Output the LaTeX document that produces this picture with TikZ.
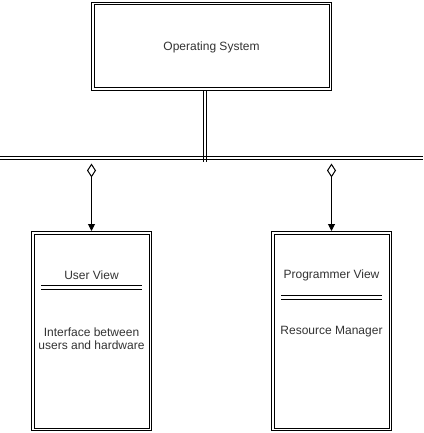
\documentclass[tikz,border=0pt]{standalone}
\usepackage{fontspec}
\setmainfont{Liberation Sans}
\usetikzlibrary{arrows.meta}

\tikzset{
    outerbox/.style={draw, line width=1pt, inner sep=0pt, fill=white},
    thinline/.style={line width=1pt},
    label text/.style={text=black!80, font=\fontsize{12}{13}\selectfont, align=center},
    link/.style={line width=1pt, {Diamond[open,length=14pt,width=9pt]}-{Triangle[length=7pt,width=7pt]}}
}

\begin{document}
\begin{tikzpicture}[x=1pt,y=-1pt]
    \useasboundingbox (0,0) rectangle (423,433);

    % top box
    \node[outerbox, minimum width=240pt, minimum height=88pt] (os) at (211.5,46.5) {};
    \draw[thinline] ([shift={(3,3)}]os.north west) rectangle ([shift={(-3,-3)}]os.south east);
    \node[label text] (ostext) at (211.5,47) {Operating System};

    % bus
    \coordinate (busL) at (0,159.5);
    \coordinate (busR) at (423,159.5);
    \draw[thinline] (busL) -- (busR);
    \draw[thinline] ([yshift=3.5pt]busL) -- ([yshift=3.5pt]busR);
    \coordinate (osdown) at (os.south -| 203,0);
    \coordinate (busin) at (203,161.5);
    \draw[thinline] (osdown) -- (busin);
    \draw[thinline] ([xshift=3.5pt]osdown) -- ([xshift=3.5pt]busin);

    % views
    \node[outerbox, minimum width=120pt, minimum height=199pt] (user) at (91.5,331) {};
    \draw[thinline] ([shift={(3,3)}]user.north west) rectangle ([shift={(-3,-3)}]user.south east);
    \node[outerbox, minimum width=120pt, minimum height=199pt] (prog) at (331.5,331) {};
    \draw[thinline] ([shift={(3,3)}]prog.north west) rectangle ([shift={(-3,-3)}]prog.south east);

    \coordinate (userup) at (91.5,163.5);
    \coordinate (progup) at (331.5,163.5);
    \draw[link] (userup) -- (user.north);
    \draw[link] (progup) -- (prog.north);

    % user view contents
    \node[label text] (usertitle) at (91.5,275.7) {User View};
    \coordinate (usersepL) at (41,289.5);
    \coordinate (usersepR) at (142,289.5);
    \draw[thinline] (usersepL) -- (usersepR);
    \draw[thinline] ([yshift=4pt]usersepL) -- ([yshift=4pt]usersepR);
    \node[label text] (userdesc) at (91.5,338.5) {Interface between\\users and hardware};

    % programmer view contents
    \node[label text] (progtitle) at (331.5,275.7) {Programmer View};
    \coordinate (progsepL) at (281,299.5);
    \coordinate (progsepR) at (382,299.5);
    \draw[thinline] (progsepL) -- (progsepR);
    \draw[thinline] ([yshift=4pt]progsepL) -- ([yshift=4pt]progsepR);
    \node[label text] (progdesc) at (331.5,332) {Resource Manager};
\end{tikzpicture}
\end{document}
